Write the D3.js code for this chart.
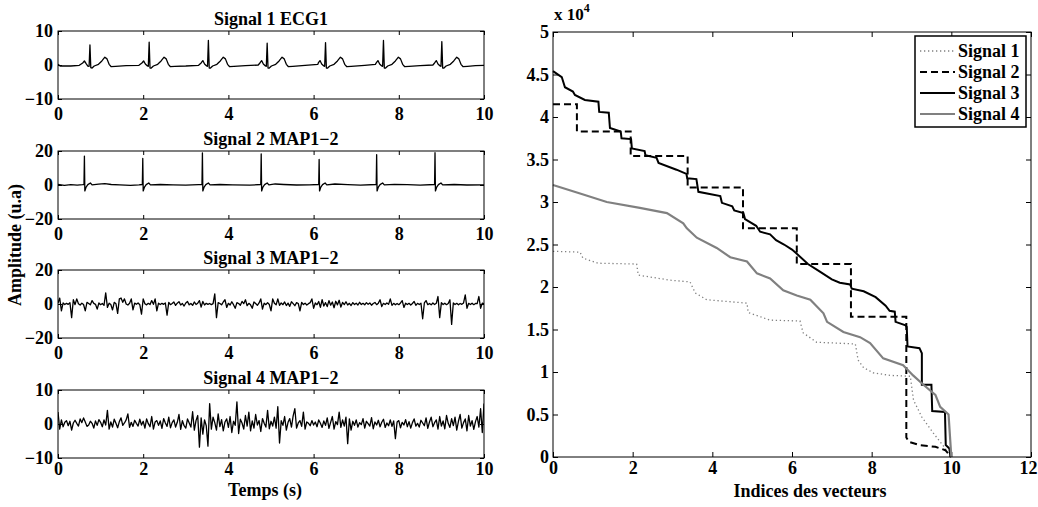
<!DOCTYPE html>
<html><head><meta charset="utf-8">
<script src="https://cdn.jsdelivr.net/npm/d3@7"></script>
<style>
body{margin:0;background:#fff}
svg text{font-family:"Liberation Serif","Times New Roman",serif !important;font-weight:bold !important;fill:#000}
</style>
</head><body>
<svg id="c" width="1038" height="507"></svg>
<script>
// ---------------- DATA ----------------
const panelTitles = ["Signal 1 ECG1", "Signal 2 MAP1\u22122", "Signal 3 MAP1\u22122", "Signal 4 MAP1\u22122"];
const panelYLimits = [10, 20, 20, 10];
const leftXTicks = [0, 2, 4, 6, 8, 10];

// Signal 1 (ECG) : [time s, amplitude]
const ecg1 = [[0,0.2],[0.05,-0.3],[0.3,-0.3],[0.5,-0.1],[0.58,0.6],[0.62,1.2],[0.66,0.4],[0.7,-0.3],[0.73,-0.4],[0.75,5.9],[0.77,-0.8],[0.8,-0.9],[0.85,-0.3],[0.95,0.2],[1.03,1.2],[1.1,2.3],[1.15,1.8],[1.2,0.2],[1.25,-0.5],[1.35,-0.4],[1.6,-0.2],[1.9,-0.1],
[1.97,0.6],[2.01,1.2],[2.05,0.3],[2.1,-0.3],[2.12,-0.4],[2.14,6.7],[2.16,-0.9],[2.19,-0.9],[2.24,-0.3],[2.34,0.2],[2.42,1.2],[2.49,2.3],[2.54,1.8],[2.59,0.2],[2.64,-0.5],[2.74,-0.4],[3.0,-0.3],[3.3,-0.1],
[3.36,0.6],[3.4,1.3],[3.44,0.3],[3.49,-0.3],[3.51,-0.4],[3.53,7.2],[3.55,-0.9],[3.58,-0.9],[3.63,-0.3],[3.73,0.2],[3.81,1.2],[3.88,2.3],[3.93,1.8],[3.98,0.2],[4.03,-0.5],[4.13,-0.4],[4.4,-0.2],[4.7,0],
[4.74,0.6],[4.78,1.3],[4.82,0.3],[4.87,-0.3],[4.89,-0.4],[4.91,6.4],[4.93,-0.9],[4.96,-0.9],[5.01,-0.3],[5.11,0.2],[5.19,1.2],[5.26,2.3],[5.31,1.8],[5.36,0.2],[5.41,-0.5],[5.51,-0.4],[5.8,-0.1],[6.1,0.2],
[6.11,0.6],[6.15,1.3],[6.19,0.3],[6.24,-0.3],[6.26,-0.4],[6.28,6.6],[6.30,-0.9],[6.33,-0.9],[6.38,-0.3],[6.48,0.2],[6.56,1.2],[6.63,2.3],[6.68,1.8],[6.73,0.2],[6.78,-0.5],[6.88,-0.4],[7.2,-0.1],[7.45,0.2],
[7.47,0.6],[7.51,1.3],[7.55,0.3],[7.6,-0.3],[7.62,-0.4],[7.64,7.2],[7.66,-0.9],[7.69,-0.9],[7.74,-0.3],[7.84,0.2],[7.92,1.2],[7.99,2.3],[8.04,1.8],[8.09,0.2],[8.14,-0.5],[8.24,-0.4],[8.5,-0.2],[8.8,0],
[8.84,0.6],[8.88,1.3],[8.92,0.3],[8.97,-0.3],[8.99,-0.4],[9.01,6.9],[9.03,-0.9],[9.06,-0.9],[9.11,-0.3],[9.21,0.2],[9.29,1.2],[9.36,2.3],[9.41,1.8],[9.46,0.2],[9.51,-0.5],[9.61,-0.4],[9.8,-0.2],[10,-0.1]];

// Signal 2 (MAP) : [time s, amplitude]
const map2 = [[0,0.3],[0.15,-0.2],[0.3,0.2],[0.45,-0.1],[0.58,0.2],[0.61,0.4],[0.62,17],[0.63,-3.5],[0.66,-1.2],[0.7,0.2],[0.76,1.2],[0.8,0.1],[0.95,0.5],[1.1,0.8],[1.25,0.3],[1.45,0.1],[1.7,-0.2],[1.9,0.1],
[1.98,0.3],[1.99,15.6],[2.0,-3.5],[2.03,-1.2],[2.07,0.2],[2.13,1.2],[2.17,0.1],[2.4,0.3],[2.7,0.1],[3.0,-0.1],[3.3,0.2],
[3.38,0.3],[3.39,18.9],[3.4,-3.5],[3.43,-1.2],[3.47,0.2],[3.53,1.2],[3.57,0.1],[3.8,0.3],[4.1,0.1],[4.5,-0.1],
[4.76,0.3],[4.77,18.3],[4.78,-3.5],[4.81,-1.2],[4.85,0.2],[4.91,1.2],[4.95,0.1],[5.1,0.6],[5.3,0.3],[5.6,0],[5.9,0.1],
[6.12,0.3],[6.13,15],[6.14,-3.5],[6.17,-1.2],[6.21,0.2],[6.27,1.2],[6.31,0.1],[6.5,0.6],[6.8,0.2],[7.1,-0.1],
[7.47,0.3],[7.48,17.8],[7.49,-3.5],[7.52,-1.2],[7.56,0.2],[7.62,1.2],[7.66,0.1],[7.9,0.4],[8.2,0.2],[8.5,-0.1],
[8.84,0.3],[8.85,19],[8.86,-3.5],[8.89,-1.2],[8.93,0.2],[8.99,1.2],[9.03,0.1],[9.3,0.3],[9.6,0],[10,0.1]];

// Signals 3 and 4 : values sampled every 0.04 s from 0 to 10 s
const sampleStep = 0.04;
const map3 = [
0.5,3.5,-4.0,0.6,-0.3,0.4,-0.2,0.8,-8.0,2.5,-0.4,3.0,0.2,-0.6,0.5,-0.3,-4.0,1.0,0.3,-0.5,2.0,0.4,-0.2,-3.0,0.6,
-0.4,0.3,-0.8,6.5,-2.0,0.5,-0.3,-3.5,1.0,0.2,-5.5,3.0,3.5,1.0,3.0,0.0,-0.6,0.4,3.0,-3.5,0.5,-0.2,0.6,-0.4,-6.0,
3.0,0.2,-0.5,0.4,-0.3,2.0,-0.2,3.0,-4.0,0.5,-0.3,0.4,-0.2,0.6,-6.5,1.0,-0.4,0.3,1.2,-0.8,0.5,1.4,-0.6,0.3,-1.2,
0.6,1.5,-0.5,0.3,-0.8,1.2,-0.3,0.5,2.0,-1.8,1.5,-0.6,0.4,-0.2,0.3,-0.4,0.2,6.0,-8.0,0.8,0.3,-0.5,1.2,2.5,-2.0,
0.4,-0.6,1.3,-0.4,-2.5,0.8,0.3,-0.7,1.5,0.2,2.5,-1.0,0.4,-0.5,-2.5,1.2,0.3,-0.8,0.6,3.0,-3.0,0.5,-0.4,0.8,-0.3,
-4.0,3.0,0.4,-0.5,3.0,-0.8,0.6,-0.4,1.2,-0.9,0.5,-1.4,1.3,0.2,-1.0,0.8,0.3,-4.0,1.0,-0.3,0.5,-0.6,0.2,0.8,3.0,
-2.5,0.6,-0.4,1.5,-2.0,2.5,-1.2,0.8,-1.5,2.0,-0.7,1.2,-2.2,1.6,-0.5,2.2,-1.8,0.9,-0.4,1.3,-0.6,0.4,-0.9,0.8,-0.3,
0.5,-0.6,1.0,-0.3,0.4,-0.5,0.8,-0.2,0.6,-0.7,0.3,0.9,-0.4,0.5,2.5,-1.5,0.4,-0.3,0.6,-0.2,3.0,-0.8,0.4,-0.5,0.3,
-0.4,0.6,2.0,-2.0,0.5,-0.3,0.4,-0.6,0.3,1.5,-0.8,0.4,-0.3,0.5,-8.7,0.6,2.0,-0.4,0.3,-0.5,0.6,-0.3,0.4,4.4,-8.0,
0.8,-0.3,0.5,-0.4,0.3,2.5,-12.0,0.6,-0.3,0.4,-0.5,0.3,-0.2,0.6,5.4,-2.5,0.4,-0.3,0.5,-0.4,0.3,0.2,4.4,-2.5,0.5,0.2];

const map4 = [
3.5,-1.5,1.2,-0.8,0.5,1.0,-0.5,0.8,-1.8,0.3,1.1,0.2,-0.6,1.5,0.4,1.8,0.6,-0.7,-0.3,0.8,0.2,-1.2,0.9,-0.4,1.3,
0.5,-0.8,1.2,-0.3,4.0,-1.5,0.6,-0.9,1.4,0.2,-1.1,0.7,1.8,-0.4,0.3,1.2,3.0,-1.0,0.5,-0.7,1.1,0.2,-0.6,1.4,-0.3,
0.8,-1.2,1.5,0.1,-0.8,2.2,-1.5,0.6,1.0,-0.4,0.9,-1.3,1.6,0.3,-0.7,2.0,-1.1,0.4,1.2,-0.9,0.5,2.8,-1.6,1.0,-0.5,
-1.2,1.5,0.3,-0.9,3.6,-1.8,1.0,2.5,-6.8,1.8,-3.0,1.2,-0.5,-6.5,6.0,-1.5,2.0,0.4,-1.8,3.0,-0.8,1.3,-2.0,0.6,1.5,
-1.0,2.2,-2.5,0.8,-0.4,6.5,-2.8,1.4,0.3,-1.5,2.5,-0.6,3.5,-2.0,0.9,-1.2,2.8,-0.3,1.0,-2.2,1.6,0.2,-0.9,4.0,-1.4,
0.8,-0.6,2.0,-1.2,5.1,-5.6,1.0,-0.4,2.2,-1.8,0.5,1.6,-0.9,2.4,4.5,-1.2,0.3,1.0,-0.7,3.5,-1.5,0.6,0.2,-0.5,1.0,
-0.3,0.6,-0.8,1.2,0.2,-1.0,0.9,-0.4,1.8,-1.3,0.5,2.2,-1.5,0.7,-0.2,3.5,-1.0,1.2,-0.6,2.0,-5.8,1.5,-1.8,0.8,-0.4,
1.2,-0.9,0.4,-0.2,1.6,-1.2,0.8,0.1,-0.6,1.9,-1.4,0.6,-0.3,1.1,-0.8,0.5,1.4,-1.0,0.3,-0.5,1.2,-0.7,0.9,-4.3,0.6,
1.0,-1.1,0.5,-0.3,1.3,-0.8,0.7,-1.2,0.4,1.5,-0.6,0.2,-0.9,1.1,0.3,-0.5,1.8,-1.3,0.6,2.0,-0.8,0.4,1.2,-1.5,2.2,
-0.6,0.9,-1.4,2.5,0.2,-1.0,1.6,-0.5,2.0,-1.8,0.8,2.8,-1.2,0.4,1.5,-2.0,2.5,-0.6,1.0,-1.6,0.7,2.2,-0.9,4.5,-2.5,6.0];

// Right panel: sorted vector values, [index, value x 1e4]
const rightXTicks = [0, 2, 4, 6, 8, 10, 12];
const rightYTicks = [0, 0.5, 1, 1.5, 2, 2.5, 3, 3.5, 4, 4.5, 5];
const legendLabels = ["Signal 1", "Signal 2", "Signal 3", "Signal 4"];
const sorted1 = [[0,2.42],[0.68,2.41],[0.75,2.34],[1.13,2.28],[2.1,2.27],[2.14,2.14],[2.94,2.08],[3.44,2.06],[3.57,1.93],[3.86,1.85],[4.87,1.81],[4.9,1.70],[5.45,1.61],[6.2,1.6],[6.28,1.46],[6.62,1.35],[7.59,1.33],[7.66,1.14],[7.8,1.05],[8.04,0.99],[8.47,0.96],[8.97,0.95],[9.01,0.81],[9.05,0.67],[9.26,0.47],[9.55,0.28],[9.85,0.1],[9.97,0]];
const sorted2 = [[0,4.15],[0.6,4.15],[0.6,3.83],[1.95,3.83],[1.95,3.54],[3.38,3.54],[3.38,3.17],[4.77,3.17],[4.77,2.69],[6.12,2.69],[6.12,2.27],[7.48,2.27],[7.48,1.65],[8.87,1.65],[8.87,0.23],[8.93,0.18],[9.2,0.14],[9.6,0.12],[9.85,0.08],[10,0]];
const sorted3 = [[0,4.54],[0.22,4.47],[0.3,4.35],[0.5,4.3],[0.55,4.26],[0.8,4.2],[1.14,4.18],[1.16,4.06],[1.4,4.05],[1.43,3.87],[1.7,3.83],[1.72,3.75],[1.96,3.74],[1.98,3.63],[2.3,3.6],[2.32,3.55],[2.6,3.52],[2.65,3.46],[3.1,3.38],[3.35,3.33],[3.37,3.28],[3.6,3.27],[3.65,3.12],[4.2,3.07],[4.24,2.99],[4.5,2.95],[4.55,2.9],[4.78,2.87],[4.82,2.8],[5.1,2.72],[5.2,2.65],[5.45,2.62],[5.6,2.55],[5.8,2.5],[6.0,2.44],[6.1,2.4],[6.4,2.27],[6.7,2.18],[7.0,2.09],[7.2,2.05],[7.46,2.03],[7.5,1.98],[7.8,1.95],[8.1,1.88],[8.35,1.78],[8.45,1.72],[8.58,1.71],[8.6,1.59],[8.85,1.55],[8.88,1.53],[8.9,1.30],[9.2,1.28],[9.26,1.22],[9.26,0.85],[9.5,0.85],[9.52,0.54],[9.84,0.53],[9.86,0.14],[9.95,0.1],[9.98,0]];
const sorted4 = [[0,3.2],[0.68,3.1],[1.35,3.0],[2.18,2.93],[2.86,2.87],[3.27,2.75],[3.36,2.69],[3.61,2.58],[4.11,2.46],[4.45,2.35],[4.87,2.3],[5.12,2.16],[5.45,2.1],[5.78,1.96],[6.12,1.9],[6.46,1.85],[6.79,1.69],[6.88,1.59],[7.29,1.47],[7.71,1.41],[7.96,1.34],[8.29,1.16],[8.79,1.08],[9.04,0.96],[9.3,0.85],[9.6,0.73],[9.72,0.59],[9.93,0.5],[10.0,0]];

// ---------------- DRAW ----------------
const svg = d3.select("#c");
const FS = 18;
const FONT = '"Liberation Serif","Times New Roman",serif';

function toPairs(vals) { return vals.map((v, i) => [i * sampleStep, v]); }
const leftSeries = [ecg1, map2, toPairs(map3), toPairs(map4)];

const LX0 = 58, LX1 = 484, PH = 68;
const panelTops = [31, 151, 270, 390];
const xLabelPad = [8.5, 8.5, 8.5, 4.5];

function styleAxis(g) {
  g.attr("font-family", FONT).attr("font-size", FS).attr("font-weight", "bold");
  g.select(".domain").remove();
  g.selectAll(".tick line").attr("stroke", "#000").attr("stroke-width", 1);
  g.selectAll(".tick text").attr("fill", "#000")
    .style("font-family", FONT).style("font-weight", "bold").style("font-size", FS + "px");
}

panelTops.forEach((top, k) => {
  const lim = panelYLimits[k];
  const x = d3.scaleLinear().domain([0, 10]).range([LX0, LX1]);
  const y = d3.scaleLinear().domain([-lim, lim]).range([top + PH, top]);
  const g = svg.append("g");
  const cid = "clip" + k;
  svg.append("clipPath").attr("id", cid).append("rect")
    .attr("x", LX0).attr("y", top).attr("width", LX1 - LX0).attr("height", PH);
  g.append("path").datum(leftSeries[k])
    .attr("clip-path", `url(#${cid})`)
    .attr("fill", "none").attr("stroke", "#000").attr("stroke-width", 1.3)
    .attr("stroke-linejoin", "round")
    .attr("d", d3.line().x(d => x(d[0])).y(d => y(d[1])));
  const yt = [-lim, 0, lim];
  const fmt = v => v < 0 ? "\u2212" + Math.abs(v) : String(v);
  g.append("g").attr("transform", `translate(0,${top + PH})`)
    .call(d3.axisBottom(x).tickValues(leftXTicks).tickSize(-4).tickPadding(xLabelPad[k]).tickFormat(d3.format("d")))
    .call(styleAxis);
  g.append("g").attr("transform", `translate(0,${top})`)
    .call(d3.axisTop(x).tickValues(leftXTicks).tickSize(-4).tickFormat(""))
    .call(styleAxis);
  g.append("g").attr("transform", `translate(${LX0},0)`)
    .call(d3.axisLeft(y).tickValues(yt).tickSize(-4).tickPadding(5).tickFormat(fmt))
    .call(styleAxis);
  g.append("g").attr("transform", `translate(${LX1},0)`)
    .call(d3.axisRight(y).tickValues(yt).tickSize(-4).tickFormat(""))
    .call(styleAxis);
  g.append("rect").attr("x", LX0).attr("y", top).attr("width", LX1 - LX0).attr("height", PH)
    .attr("fill", "none").attr("stroke", "#000").attr("stroke-width", 1);
  g.append("text").attr("x", (LX0 + LX1) / 2).attr("y", top - 6)
    .attr("text-anchor", "middle").style("font-size", FS + "px").text(panelTitles[k]);
});

svg.append("text").attr("x", 265).attr("y", 496).attr("text-anchor", "middle")
  .style("font-size", FS + "px").text("Temps (s)");
svg.append("text").attr("transform", "translate(21,245) rotate(-90)").attr("text-anchor", "middle")
  .style("font-size", FS + "px").text("Amplitude (u.a)");

// Right panel
const RX0 = 553, RX1 = 1031, RY0 = 32, RY1 = 457;
const rx = d3.scaleLinear().domain([0, 12]).range([RX0, RX1]);
const ry = d3.scaleLinear().domain([0, 5]).range([RY1, RY0]);
const rg = svg.append("g");
const bottomAx = rg.append("g").attr("transform", `translate(0,${RY1})`)
  .call(d3.axisBottom(rx).tickValues(rightXTicks).tickSize(-5).tickPadding(4.5).tickFormat(d3.format("d")))
  .call(styleAxis);
// keep the last label ("12") inside the page, as the original does
bottomAx.selectAll(".tick text").filter(d => d === 12).attr("text-anchor", "end").attr("x", 6);
rg.append("g").attr("transform", `translate(0,${RY0})`)
  .call(d3.axisTop(rx).tickValues(rightXTicks).tickSize(-5).tickFormat(""))
  .call(styleAxis);
rg.append("g").attr("transform", `translate(${RX0},0)`)
  .call(d3.axisLeft(ry).tickValues(rightYTicks).tickSize(-5).tickPadding(4).tickFormat(v => String(v)))
  .call(styleAxis);
rg.append("g").attr("transform", `translate(${RX1},0)`)
  .call(d3.axisRight(ry).tickValues(rightYTicks).tickSize(-5).tickFormat(""))
  .call(styleAxis);

const seriesStyles = [
  {data: sorted1, color: "#808080", width: 1.3, dash: "1.3,2.7"},
  {data: sorted2, color: "#000", width: 2, dash: "7,4"},
  {data: sorted3, color: "#000", width: 2, dash: null},
  {data: sorted4, color: "#808080", width: 2.2, dash: null}
];
const rline = d3.line().x(d => rx(d[0])).y(d => ry(d[1]));
seriesStyles.forEach(s => {
  rg.append("path").datum(s.data).attr("fill", "none").attr("stroke", s.color)
    .attr("stroke-width", s.width).attr("stroke-dasharray", s.dash).attr("d", rline);
});
rg.append("rect").attr("x", RX0).attr("y", RY0).attr("width", RX1 - RX0).attr("height", RY1 - RY0)
  .attr("fill", "none").attr("stroke", "#000").attr("stroke-width", 1);

// exponent label
const ex = svg.append("text").attr("x", 554).attr("y", 20).style("font-size", "17px");
ex.append("tspan").text("x 10");
ex.append("tspan").attr("dy", -8).style("font-size", "12px").text("4");

svg.append("text").attr("x", 810).attr("y", 497).attr("text-anchor", "middle")
  .style("font-size", FS + "px").text("Indices des vecteurs");

// Legend
const lg = svg.append("g");
lg.append("rect").attr("x", 915).attr("y", 36).attr("width", 111).attr("height", 91)
  .attr("fill", "#fff").attr("stroke", "#000").attr("stroke-width", 1.5);
const legY = [51, 72, 93, 114];
seriesStyles.forEach((s, i) => {
  lg.append("line").attr("x1", 920).attr("x2", 955).attr("y1", legY[i]).attr("y2", legY[i])
    .attr("stroke", s.color).attr("stroke-width", s.width).attr("stroke-dasharray", s.dash);
  lg.append("text").attr("x", 958).attr("y", legY[i] + 6).style("font-size", FS + "px").text(legendLabels[i]);
});
</script>
</body></html>
